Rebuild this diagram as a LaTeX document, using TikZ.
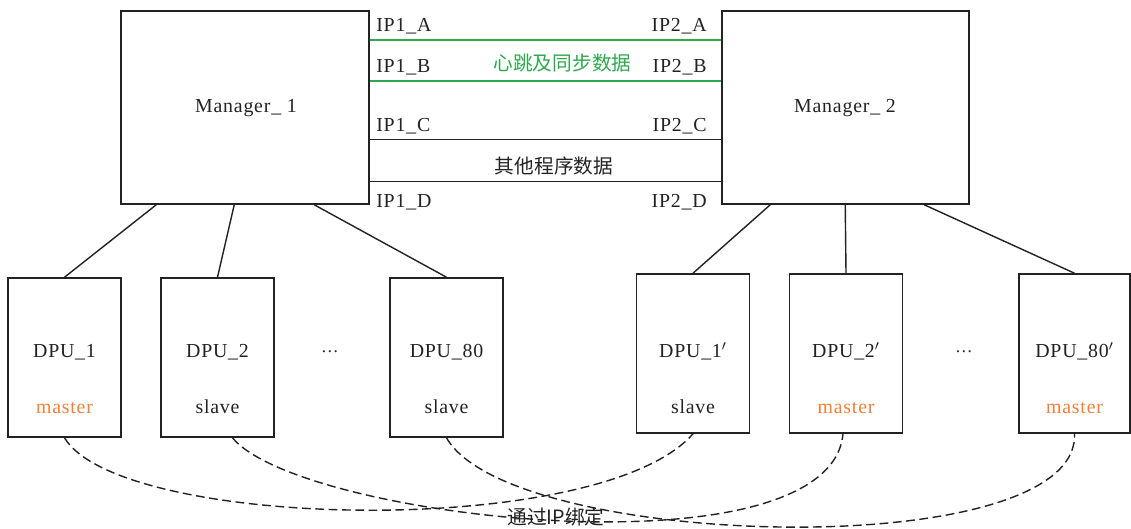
\documentclass[tikz,border=0pt]{standalone}
\usepackage{fontspec}
\setmainfont{Liberation Serif}[LetterSpace=4]
\newfontfamily\cjk{Noto Sans CJK SC}
\newfontfamily\plainserif{Liberation Serif}
\usetikzlibrary{calc}
\definecolor{grn}{HTML}{2DA84E}
\definecolor{org}{HTML}{F0803A}
\definecolor{ink}{HTML}{222222}
\begin{document}
\begin{tikzpicture}[x=0.02cm,y=-0.02cm,
  every node/.style={text=ink},
  lat/.style={font=\fontsize{11.3}{13}\selectfont, inner sep=0pt},
  zh/.style={font=\cjk\fontsize{11.2}{13}\selectfont, inner sep=0pt},
  mgrbox/.style={draw=ink, line width=0.9pt, minimum width=4.96cm, minimum height=3.86cm, inner sep=0pt},
  dpubox/.style={draw=ink, line width=0.9pt, minimum width=2.26cm, minimum height=3.18cm, inner sep=0pt},
  link/.style={draw=ink, line width=0.8pt},
  glink/.style={draw=grn, line width=0.9pt},
  bind/.style={draw=ink, line width=0.8pt, dash pattern=on 5pt off 2.6pt},
  dotsnode/.style={inner sep=0pt, font=\plainserif\fontsize{10}{11}\selectfont}
]
\useasboundingbox (0,0) rectangle (1131,528);

% managers
\node[mgrbox] (m1) at (245,107.5) {};
\node[mgrbox, minimum width=4.94cm] (m2) at (845.5,107.5) {};
\node[lat, anchor=base] (m1t) at (246,112) {Manager\_ 1};
\node[lat, anchor=base] (m2t) at (845,112) {Manager\_ 2};

% interconnections
\draw[glink] ($(m1.north east)+(0,30)$) -- ($(m2.north west)+(0,30)$);
\draw[glink] ($(m1.north east)+(0,71)$) -- ($(m2.north west)+(0,71)$);
\draw[link] ($(m1.north east)+(0,129)$) -- ($(m2.north west)+(0,129)$);
\draw[link] ($(m1.north east)+(0,171)$) -- ($(m2.north west)+(0,171)$);

\node[lat, anchor=base west] (ip1a) at (376,31) {IP1\_A};
\node[lat, anchor=base west] (ip1b) at (376,72) {IP1\_B};
\node[lat, anchor=base west] (ip1c) at (376,131) {IP1\_C};
\node[lat, anchor=base west] (ip1d) at (376,207) {IP1\_D};
\node[lat, anchor=base east] (ip2a) at (707,31) {IP2\_A};
\node[lat, anchor=base east] (ip2b) at (707,72) {IP2\_B};
\node[lat, anchor=base east] (ip2c) at (707,131) {IP2\_C};
\node[lat, anchor=base east] (ip2d) at (707,207) {IP2\_D};

\node[zh, text=grn] (hb) at (562.5,63.5) {心跳及同步数据};
\node[zh] (other) at (554,166) {其他程序数据};

% DPUs
\node[dpubox] (d1) at (64.5,357.5) {};
\node[dpubox] (d2) at (217.5,357.5) {};
\node[dpubox] (d80) at (446.5,357.5) {};
\node[dpubox] (d1p) at (693,353.5) {};
\node[dpubox] (d2p) at (846,353.5) {};
\node[dpubox, minimum width=2.22cm] (d80p) at (1074.5,353.5) {};

\node[lat, anchor=base] (d1t) at (64.5,357) {DPU\_1};
\node[lat, anchor=base] (d2t) at (217.5,357) {DPU\_2};
\node[lat, anchor=base] (d80t) at (446.5,357) {DPU\_80};
\node[lat, anchor=base] (d1pt) at (693,357) {DPU\_1$'$};
\node[lat, anchor=base] (d2pt) at (846,357) {DPU\_2$'$};
\node[lat, anchor=base] (d80pt) at (1074.5,357) {DPU\_80$'$};

\node[lat, anchor=base, text=org] (r1) at (64.5,413) {master};
\node[lat, anchor=base] (r2) at (217.5,413) {slave};
\node[lat, anchor=base] (r80) at (446.5,413) {slave};
\node[lat, anchor=base] (r1p) at (693,413) {slave};
\node[lat, anchor=base, text=org] (r2p) at (846,413) {master};
\node[lat, anchor=base, text=org] (r80p) at (1074.5,413) {master};

\node[dotsnode] (dotsl) at (330,352) {…};
\node[dotsnode] (dotsr) at (964,352) {…};

% manager to DPU links
\draw[link] ($(m1.south west)+(36,0)$) -- (d1.north);
\draw[link] ($(m1.south west)+(114,0)$) -- (d2.north);
\draw[link] ($(m1.south west)+(194,0)$) -- (d80.north);
\draw[link] ($(m2.south west)+(49,0)$) -- (d1p.north);
\draw[link] ($(m2.south west)+(124,0)$) -- (d2p.north);
\draw[link] ($(m2.south west)+(203,0)$) -- (d80p.north);

% IP binding curves
\draw[bind] (d1.south) .. controls (120,530) and (600,540) .. (d1p.south);
\draw[bind] ($(d2.south)+(15,0)$) .. controls (300,520) and (830,578) .. ($(d2p.south)+(-3,0)$);
\draw[bind] (d80.south) .. controls (510,550) and (1080,565) .. (d80p.south);

\node[zh] (bindt) at (556,517) {通过IP绑定};
\end{tikzpicture}
\end{document}
